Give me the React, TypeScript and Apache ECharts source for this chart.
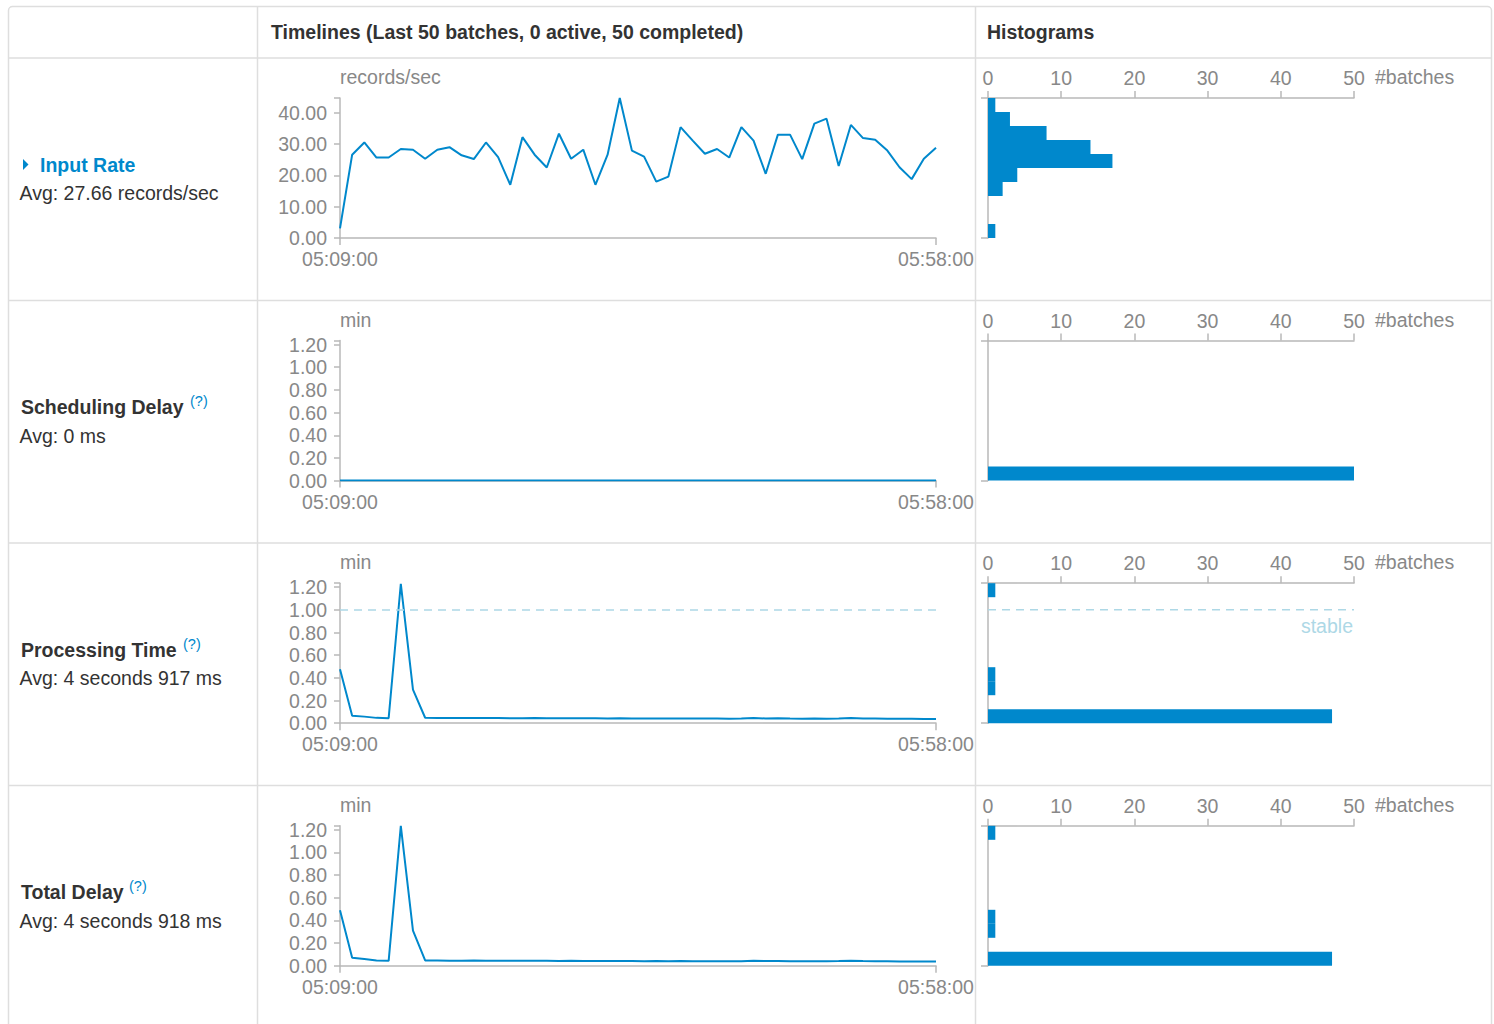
import React, { useEffect, useRef } from "react";
import * as echarts from "echarts";

// ---------------- data ----------------
const batchTimes = [
  "05:09:00", "05:10:00", "05:11:00", "05:12:00", "05:13:00", "05:14:00", "05:15:00", "05:16:00", "05:17:00", "05:18:00",
  "05:19:00", "05:20:00", "05:21:00", "05:22:00", "05:23:00", "05:24:00", "05:25:00", "05:26:00", "05:27:00", "05:28:00",
  "05:29:00", "05:30:00", "05:31:00", "05:32:00", "05:33:00", "05:34:00", "05:35:00", "05:36:00", "05:37:00", "05:38:00",
  "05:39:00", "05:40:00", "05:41:00", "05:42:00", "05:43:00", "05:44:00", "05:45:00", "05:46:00", "05:47:00", "05:48:00",
  "05:49:00", "05:50:00", "05:51:00", "05:52:00", "05:53:00", "05:54:00", "05:55:00", "05:56:00", "05:57:00", "05:58:00",
];

const inputRate = [
  3.1, 26.6, 30.5, 25.7, 25.7, 28.4, 28.2, 25.3, 28.2, 29.0,
  26.4, 25.2, 30.5, 25.8, 17.0, 32.2, 26.6, 22.5, 33.3, 25.3,
  28.2, 17.0, 26.6, 44.7, 27.9, 26.0, 18.0, 19.6, 35.4, 31.1,
  26.9, 28.4, 25.7, 35.4, 31.1, 20.5, 33.0, 33.0, 25.2, 36.5,
  38.1, 23.0, 36.1, 31.9, 31.4, 27.9, 22.6, 18.8, 25.3, 28.8,
];

const schedulingDelay = [
  0, 0, 0, 0, 0, 0, 0, 0, 0, 0,
  0, 0, 0, 0, 0, 0, 0, 0, 0, 0,
  0, 0, 0, 0, 0, 0, 0, 0, 0, 0,
  0, 0, 0, 0, 0, 0, 0, 0, 0, 0,
  0, 0, 0, 0, 0, 0, 0, 0, 0, 0,
];

const processingTime = [
  0.475, 0.066, 0.058, 0.047, 0.044, 1.23, 0.296, 0.048, 0.046, 0.045,
  0.045, 0.046, 0.045, 0.045, 0.044, 0.044, 0.045, 0.044, 0.043, 0.044,
  0.043, 0.043, 0.042, 0.043, 0.042, 0.041, 0.042, 0.041, 0.042, 0.041,
  0.041, 0.041, 0.040, 0.041, 0.045, 0.042, 0.043, 0.041, 0.040, 0.041,
  0.040, 0.042, 0.045, 0.042, 0.041, 0.040, 0.039, 0.039, 0.038, 0.037,
];

const totalDelay = [
  0.49, 0.071, 0.059, 0.047, 0.044, 1.235, 0.31, 0.047, 0.046, 0.045,
  0.045, 0.046, 0.045, 0.045, 0.044, 0.044, 0.045, 0.044, 0.043, 0.044,
  0.043, 0.043, 0.042, 0.043, 0.042, 0.041, 0.042, 0.041, 0.042, 0.041,
  0.041, 0.041, 0.040, 0.041, 0.045, 0.042, 0.043, 0.041, 0.040, 0.041,
  0.040, 0.042, 0.045, 0.042, 0.041, 0.040, 0.039, 0.039, 0.038, 0.037,
];

// histogram counts per bin, from the lowest bin to the highest
const inputRateHist = [1, 0, 0, 2, 4, 17, 14, 8, 3, 1];
const schedulingDelayHist = [50, 0, 0, 0, 0, 0, 0, 0, 0, 0];
const processingTimeHist = [47, 0, 1, 1, 0, 0, 0, 0, 0, 1];
const totalDelayHist = [47, 0, 1, 1, 0, 0, 0, 0, 0, 1];

const histBatchTicks = { min: 0, max: 50, interval: 10 };
const stableValue = 1.0;

const rowsMeta = [
  { title: "Input Rate", avg: "Avg: 27.66 records/sec", unit: "records/sec", max: 44.7, interval: 10, data: inputRate, hist: inputRateHist, link: true },
  { title: "Scheduling Delay", avg: "Avg: 0 ms", unit: "min", max: 1.235, interval: 0.2, data: schedulingDelay, hist: schedulingDelayHist },
  { title: "Processing Time", avg: "Avg: 4 seconds 917 ms", unit: "min", max: 1.235, interval: 0.2, data: processingTime, hist: processingTimeHist, stable: true },
  { title: "Total Delay", avg: "Avg: 4 seconds 918 ms", unit: "min", max: 1.235, interval: 0.2, data: totalDelay, hist: totalDelayHist },
];

// ---------------- styles / layout ----------------
const FONT = "'Liberation Sans', Arial, Helvetica, sans-serif";
const BLUE = "#0088cc";
const AXIS = "#b8b8b8";
const LABEL = "#888888";
const TEXT = "#333333";
const STABLE = "#add8e6";
const BORDER = "#dedede";
const FS = 19.5;

const ROW_TOP0 = 98;
const ROW_STEP = 242.6;
const PLOT_H = 140;
const TL_LEFT = 340;
const TL_W = 596;
const H_LEFT = 988;
const H_W = 366;
const qX = [0, 190, 183, 129];

function buildOption() {
  const grid: any[] = [];
  const xAxis: any[] = [];
  const yAxis: any[] = [];
  const series: any[] = [];
  const graphic: any[] = [];

  const axisLineStyle = { color: AXIS, width: 1.5 };
  const labelStyle = { color: LABEL, fontSize: FS, fontFamily: FONT };
  const endOnly = (idx: number) => idx === 0 || idx === batchTimes.length - 1;

  // table borders
  graphic.push({
    type: "rect",
    shape: { x: 8.5, y: 6.5, width: 1483, height: 1100, r: [4, 4, 0, 0] },
    style: { fill: "none", stroke: BORDER, lineWidth: 1.5 },
    z: -10,
  });
  [58, 300.5, 543, 785.5].forEach((y) => {
    graphic.push({ type: "line", shape: { x1: 8.5, y1: y, x2: 1491.5, y2: y }, style: { stroke: BORDER, lineWidth: 1.5 }, z: -10 });
  });
  [257.5, 975.5].forEach((x) => {
    graphic.push({ type: "line", shape: { x1: x, y1: 6.5, x2: x, y2: 1030 }, style: { stroke: BORDER, lineWidth: 1.5 }, z: -10 });
  });
  graphic.push({
    type: "text",
    style: { text: "Timelines (Last 50 batches, 0 active, 50 completed)", x: 271, y: 32, fill: TEXT, font: `bold ${FS}px ${FONT}`, textVerticalAlign: "middle", verticalAlign: "middle" },
  });
  graphic.push({
    type: "text",
    style: { text: "Histograms", x: 987, y: 32, fill: TEXT, font: `bold ${FS}px ${FONT}`, textVerticalAlign: "middle", verticalAlign: "middle" },
  });

  rowsMeta.forEach((r: any, i) => {
    const top = ROW_TOP0 + i * ROW_STEP;
    const tg = grid.length;
    grid.push({ left: TL_LEFT, top, width: TL_W, height: PLOT_H, outerBoundsMode: "none" });
    const hg = grid.length;
    grid.push({ left: H_LEFT, top, width: H_W, height: PLOT_H, outerBoundsMode: "none" });

    const fmt = (v: number) => {
      const k = v / r.interval;
      return Math.abs(k - Math.round(k)) < 1e-6 ? v.toFixed(2) : "";
    };

    // timeline axes
    const tx = xAxis.length;
    xAxis.push({
      gridIndex: tg, type: "category", data: batchTimes, boundaryGap: false,
      axisLine: { show: true, onZero: false, lineStyle: axisLineStyle },
      axisTick: { show: true, interval: endOnly, length: 7, lineStyle: axisLineStyle },
      axisLabel: { ...labelStyle, interval: endOnly, margin: 11 },
      splitLine: { show: false },
    });
    const ty = yAxis.length;
    yAxis.push({
      gridIndex: tg, type: "value", min: 0, max: r.max, interval: r.interval,
      name: r.unit, nameLocation: "end", nameGap: 21,
      nameTextStyle: { ...labelStyle, align: "left", verticalAlign: "middle" },
      axisLine: { show: true, onZero: false, lineStyle: axisLineStyle },
      axisTick: { show: true, length: 6, lineStyle: axisLineStyle },
      axisLabel: { ...labelStyle, margin: 13, formatter: fmt },
      splitLine: { show: false },
    });

    // histogram axes
    const hx = xAxis.length;
    xAxis.push({
      gridIndex: hg, type: "value", position: "top",
      min: histBatchTicks.min, max: histBatchTicks.max, interval: histBatchTicks.interval,
      axisLine: { show: true, onZero: false, lineStyle: axisLineStyle },
      axisTick: { show: true, length: 7, lineStyle: axisLineStyle },
      axisLabel: { ...labelStyle, margin: 10 },
      splitLine: { show: false },
    });
    const hy = yAxis.length;
    yAxis.push({
      gridIndex: hg, type: "value", min: 0, max: r.max, interval: r.max,
      axisLine: { show: true, onZero: false, lineStyle: axisLineStyle },
      axisTick: { show: true, length: 7, lineStyle: axisLineStyle },
      axisLabel: { show: false },
      splitLine: { show: false },
    });

    // timeline line
    const lineSeries: any = {
      type: "line", xAxisIndex: tx, yAxisIndex: ty, data: r.data,
      symbol: "none", showSymbol: false,
      lineStyle: { color: BLUE, width: 2 }, itemStyle: { color: BLUE },
      z: 3,
    };
    if (r.stable) {
      lineSeries.markLine = {
        silent: true, symbol: ["none", "none"], label: { show: false },
        lineStyle: { color: STABLE, type: [8, 6], width: 1.5 },
        data: [{ yAxis: stableValue }],
      };
    }
    series.push(lineSeries);

    // histogram bars
    const binH = r.max / r.hist.length;
    const histData = r.hist
      .map((c: number, b: number) => [b * binH, (b + 1) * binH, c])
      .filter((d: number[]) => d[2] > 0);
    series.push({
      type: "custom", xAxisIndex: hx, yAxisIndex: hy, data: histData,
      encode: { x: 2, y: [0, 1] },
      renderItem: (_p: any, api: any) => {
        const lo = api.value(0), hi = api.value(1), cnt = api.value(2);
        const p0 = api.coord([0, hi]);
        const p1 = api.coord([cnt, lo]);
        return {
          type: "rect",
          shape: { x: p0[0], y: p0[1], width: p1[0] - p0[0], height: p1[1] - p0[1] },
          style: { fill: BLUE },
        };
      },
      z: 3,
    });

    if (r.stable) {
      series.push({
        type: "line", xAxisIndex: hx, yAxisIndex: hy,
        data: [[histBatchTicks.min, stableValue], [histBatchTicks.max, stableValue]],
        symbol: "none", showSymbol: false, silent: true,
        lineStyle: { color: STABLE, type: [8, 6], width: 1.5 },
        z: 2,
      });
      graphic.push({
        type: "text",
        style: { text: "stable", x: H_LEFT + H_W - 1, y: top + 43, fill: STABLE, font: `${FS}px ${FONT}`, textAlign: "right", align: "right", textVerticalAlign: "middle", verticalAlign: "middle" },
      });
    }

    graphic.push({
      type: "text",
      style: { text: "#batches", x: 1375, y: top - 21, fill: LABEL, font: `${FS}px ${FONT}`, textVerticalAlign: "middle", verticalAlign: "middle" },
    });

    // left column
    const titleY = 164.5 + i * ROW_STEP;
    if (r.link) {
      graphic.push({
        type: "polygon",
        shape: { points: [[23, titleY - 5.5], [28.5, titleY], [23, titleY + 5.5]] },
        style: { fill: BLUE },
      });
      graphic.push({
        type: "text",
        style: { text: r.title, x: 40, y: titleY, fill: BLUE, font: `bold ${FS}px ${FONT}`, textVerticalAlign: "middle", verticalAlign: "middle" },
      });
    } else {
      graphic.push({
        type: "text",
        style: { text: r.title, x: 21, y: titleY, fill: TEXT, font: `bold ${FS}px ${FONT}`, textVerticalAlign: "middle", verticalAlign: "middle" },
      });
      graphic.push({
        type: "text",
        style: { text: "(?)", x: qX[i], y: titleY - 6, fill: BLUE, font: `14.5px ${FONT}`, textVerticalAlign: "middle", verticalAlign: "middle" },
      });
    }
    graphic.push({
      type: "text",
      style: { text: r.avg, x: 19.5, y: titleY + 28.5, fill: TEXT, font: `${FS}px ${FONT}`, textVerticalAlign: "middle", verticalAlign: "middle" },
    });
  });

  return { animation: false, backgroundColor: "#ffffff", grid, xAxis, yAxis, series, graphic };
}

export default function App() {
  const ref = useRef<HTMLDivElement>(null);
  useEffect(() => {
    if (!ref.current) return;
    const chart = echarts.init(ref.current, null, { renderer: "svg" });
    chart.setOption(buildOption() as any);
    return () => chart.dispose();
  }, []);
  return (
    <div
      ref={ref}
      style={{ position: "absolute", left: 0, top: 0, width: 1494, height: 1024, background: "#fff" }}
    />
  );
}
